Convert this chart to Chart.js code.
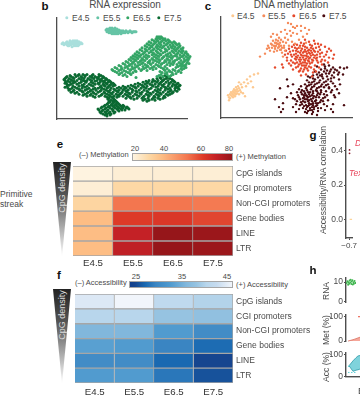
<!DOCTYPE html>
<html>
<head>
<meta charset="utf-8">
<script src="https://cdn.jsdelivr.net/npm/chart.js@4"></script>
<style>
html, body { margin: 0; padding: 0; background: #fff; }
body { position: relative; width: 360px; height: 395px; overflow: hidden; font-family: 'Liberation Sans', Arial, sans-serif; color: #4a4a4a; }
canvas { position: absolute; }
.t { position: absolute; white-space: nowrap; font-size: 8.5px; line-height: 10px; }
.s { font-size: 7.5px; }
.c { transform: translate(-50%, -50%); }
.l { transform: translate(0, -50%); }
.v { transform: translate(-50%, -50%) rotate(-90deg); }
.letter { font-weight: bold; font-size: 11.5px; color: #111; }
.title { font-size: 10px; line-height: 12px; }
.dot { position: absolute; width: 3.4px; height: 3.4px; border-radius: 50%; transform: translate(-50%, -50%); }
.bar { position: absolute; box-sizing: border-box; border: 1px solid #a6a6a6; }
.tri { position: absolute; width: 18px; height: 95px; clip-path: polygon(0 0, 100% 0, 50% 100%); background: linear-gradient(#222, #555 35%, #bbb 75%, #fff); }
</style>
</head>
<body>
<div class="t letter c" style="left:45px;top:6px">b</div>
<div class="t title c" style="left:125px;top:5px">RNA expression</div>
<div class="t letter c" style="left:208px;top:6px">c</div>
<div class="t title c" style="left:291px;top:5px">DNA methylation</div>
<div id="legend-b"></div>
<div id="legend-c"></div>
<canvas id="chart-rna" width="145" height="109" style="left:50px;top:14px"></canvas>
<canvas id="chart-dna" width="145" height="109" style="left:214px;top:13px"></canvas>

<div class="t l" style="left:0;top:194px">Primitive</div>
<div class="t l" style="left:0;top:204px">streak</div>

<div class="t letter c" style="left:60px;top:144px">e</div>
<div class="t s l" style="left:79px;top:155px">(–) Methylation</div>
<div class="t s c" style="left:135px;top:149px">20</div>
<div class="t s c" style="left:164px;top:149px">40</div>
<div class="t s c" style="left:201px;top:149px">60</div>
<div class="t s c" style="left:229px;top:149px">80</div>
<div class="bar" id="bar-met" style="left:132px;top:153px;width:101px;height:8px"></div>
<div class="t s l" style="left:236px;top:157px">(+) Methylation</div>
<div class="tri" style="left:53px;top:162px"></div>
<div class="t v" style="left:62px;top:188px;color:#ddd;font-size:9px">CpG density</div>
<canvas id="chart-met" width="290" height="113" style="left:70px;top:158px"></canvas>

<div class="t letter c" style="left:59px;top:275px">f</div>
<div class="t s l" style="left:75px;top:283px">(–) Accessibility</div>
<div class="t s c" style="left:136px;top:277px">25</div>
<div class="t s c" style="left:182px;top:277px">35</div>
<div class="t s c" style="left:227px;top:277px">45</div>
<div class="bar" id="bar-acc" style="left:129px;top:281px;width:104px;height:7px"></div>
<div class="t s l" style="left:236px;top:285px">(+) Accessibility</div>
<div class="tri" style="left:53px;top:289px"></div>
<div class="t v" style="left:62px;top:315px;color:#ddd;font-size:9px">CpG density</div>
<canvas id="chart-acc" width="290" height="114" style="left:70px;top:286px"></canvas>

<div class="t letter c" style="left:313px;top:135px">g</div>
<div class="t v" style="left:323px;top:180px">Accessibility/RNA correlation</div>
<canvas id="chart-corr" width="32" height="124" style="left:328px;top:128px"></canvas>
<div class="t l" style="left:355px;top:143px;color:#e8445a;font-style:italic">D</div>
<div class="t l" style="left:349px;top:173px;color:#e8445a;font-style:italic">Tex</div>

<div class="t letter c" style="left:313px;top:270px">h</div>
<div class="t v" style="left:326px;top:291px">RNA</div>
<div class="t v" style="left:326px;top:330px">Met (%)</div>
<div class="t v" style="left:326px;top:367px">Acc (%)</div>
<canvas id="chart-h-rna" width="30" height="37" style="left:330px;top:272px"></canvas>
<canvas id="chart-h-met" width="30" height="39" style="left:330px;top:309px"></canvas>
<canvas id="chart-h-acc" width="30" height="36" style="left:330px;top:347px"></canvas>
<div class="t l" style="left:358px;top:391px;font-size:9.5px">E</div>

<script>
const stages = ['E4.5', 'E5.5', 'E6.5', 'E7.5'];
const contexts = ['CpG islands', 'CGI promoters', 'Non-CGI promoters', 'Gene bodies', 'LINE', 'LTR'];

const rnaColors = ['#a9dfdc', '#66c4a6', '#34a565', '#0b6a32'];
const dnaColors = ['#fdc88f', '#f58b5a', '#e5492c', '#4a0b10'];

// tsne clouds, [x, y] or [y, [x, x, ...]] rows
const rnaE45 = [[5,75],[6,76],[7,74],[8,75],[9,76],[10,74],[10,77],[11,75],[12,73],[12,76],[13,75],[14,77],[14,74],[15,72],[15,76],[16,78],[16,75],[17,73],[17,77],[18,75],[18,78],[19,76],[19,73],[20,75],[20,78],[21,76],[22,74],[22,77],[23,75],[24,76],[25,75],[13,78],[11,73],[21,73]];
const rnaE55 = [[49,89],[50,87],[50,90],[51,88],[52,86],[52,90],[53,88],[53,91],[54,86],[54,89],[55,85],[55,88],[55,91],[56,87],[56,90],[57,85],[57,89],[58,87],[58,91],[59,85],[59,89],[60,87],[60,90],[61,85],[61,88],[62,86],[62,89],[63,87],[64,85],[64,88],[65,87],[66,86],[66,88],[67,87],[68,86],[69,88],[70,87],[71,86],[72,87],[73,88],[74,87],[75,86],[76,87],[77,87],[78,87],[79,87]];
const rnaE65 = [
  [82,[100,102,104]],[81,[101,105]],[80,[99,103,106,108]],[79,[95,100,107,111]],[78,[97,101,105,109,112]],[77,[92,99,104,113,117]],
  [76,[94,98,102,107,111,115,118]],[75,[90,97,103,110,119,122]],[74,[92,96,100,104,109,113,116,120]],[73,[88,94,101,107,116,123]],
  [72,[90,95,99,103,106,111,114,118,122]],[71,[85,93,100,105,115,121,126]],[70,[88,92,97,101,108,112,117,120,124]],
  [69,[83,89,96,103,109,118,125]],[68,[85,90,94,99,104,110,115,119,122,126]],[67,[80,88,94,100,108,116,124,129]],
  [66,[82,87,92,96,101,106,113,117,121,125,128]],[65,[78,86,97,103,111,120,130]],[64,[80,84,89,95,99,104,109,114,119,123,127,131]],
  [63,[76,82,91,101,110,118,126,134]],[62,[78,83,87,92,97,102,107,112,116,120,125,129,133]],[61,[74,80,89,99,106,114,123,131]],
  [60,[76,81,85,90,95,100,105,110,115,122,127,132]],[59,[72,78,86,96,102,111,120,130,135]],[58,[74,79,84,88,93,98,103,108,113,118,124,128,131]],
  [57,[69,77,83,92,100,109,116,127]],[56,[71,76,81,86,91,96,102,107,112,117,122,126,130]],[55,[66,75,85,93,105,114,124,132]],
  [54,[68,73,78,83,88,94,99,104,110,116,120,125,129]],[53,[62,72,81,90,101,113,123,127]],[52,[64,70,75,80,86,91,97,102,108,121,125,128]],
  [51,[58,68,78,89,95,104,119,129]],[50,[60,65,71,76,82,87,93,99,106,110,124,127]],[49,[55,64,74,85,96,107,116,125]],
  [48,[56,62,67,73,78,84,90,108,112,118,122]],[47,[58,69,79,103,113,121]],[46,[60,65,71,76,105,110,115,124]],[45,[63,73,108,119]],
  [44,[62,68,74,104,110,116]],[43,[66,102,114]],[42,[70,100,106,112]],[41,[79]],
];
const rnaE75 = [
  [44,[18,22,26,30,36,42]],[43,[13,21,28,35,44,108]],[42,[10,14,19,24,28,33,38,42,46,106,110]],[41,[9,16,25,35,40,47,103,111]],
  [40,[8,12,17,22,27,31,37,41,45,49,100,104,109,113]],[39,[7,14,24,33,43,50,96,107,115]],[38,[8,11,15,20,26,30,35,40,44,48,52,92,96,101,106,111,116]],
  [37,[11,17,28,38,46,53,89,98,105,117]],[36,[9,13,18,24,29,34,43,47,51,54,86,91,95,100,104,109,114,118]],
  [35,[8,16,22,36,41,49,56,81,90,103,112,121]],[34,[10,14,20,27,32,38,42,46,50,54,57,78,83,88,93,98,102,107,112,116,120]],
  [33,[12,25,34,47,53,58,74,85,95,105,118,123]],[32,[10,16,22,26,30,36,44,48,52,56,66,71,76,81,86,90,96,101,106,111,115,119,122]],
  [31,[8,18,28,43,51,62,68,78,87,99,108,120]],[30,[11,15,20,25,32,38,41,45,50,54,60,64,69,73,79,84,89,94,104,109,113,118,121]],
  [29,[13,22,30,36,47,57,67,75,92,101,111,122]],[28,[12,17,23,28,34,39,44,49,53,58,62,66,71,76,82,87,98,103,108,114,118]],
  [27,[16,25,33,43,51,60,69,79,90,100,113,120]],[26,[14,20,26,31,36,41,47,52,56,61,65,70,75,80,85,91,96,101,106,111,116]],
  [25,[18,30,37,48,54,64,72,83,93,103,115]],[24,[22,28,34,39,45,50,55,59,63,68,73,78,84,89,94,99,104,109,113]],
  [23,[26,33,44,52,61,70,80,91,101,111]],[22,[30,36,42,48,53,57,62,66,71,76,82,87,92,97,102,107]],[21,[38,50,55,60,73,86,98,108]],
  [20,[52,56,69,74,80,85,91,96,101,106]],[19,[51,57,77,88,95,103]],[18,[54,58,86,92,98]],[17,[52,56,59,90]],
  [16,[53,57,60]],[15,[51,56,61]],[14,[50,55,59,62]],[13,[48,54,58,63,66]],[12,[47,52,56,60,64,67]],[11,[45,51,57,61,65,70]],
  [10,[44,49,53,58,62,66,69,71]],[9,[41,48,55,60,64,72]],[8,[42,46,51,56,61,65,68]],[7,[45,50,56,62]],
  [6,[43,48,53,58]],[5,[44,49,52,57]],[4,[46,50,54]],[3,[48,53]],[2,[50]],
];

const dnaE45 = [[7,22],[8,20],[9,23],[9,19],[10,22],[10,25],[11,21],[11,24],[12,20],[12,23],[12,26],[13,22],[13,25],[13,28],[14,21],[14,24],[14,27],[15,23],[15,26],[15,30],[16,24],[16,28],[17,26],[17,31],[18,23],[18,29],[19,27],[20,33],[20,25],[21,30],[22,24],[23,35],[25,31],[26,38],[27,34],[29,41],[30,36],[33,43],[37,44],[32,30],[8,17],[24,21],[18,35]];
const dnaE55 = [[39,61],[44,64],[46,69],[47,72],[49,67],[50,74],[51,70],[52,77],[53,72],[53,66],[54,75],[54,69],[55,78],[55,72],[56,74],[56,67],[57,70],[57,77],[58,73],[58,80],[59,68],[59,75],[60,72],[60,78],[61,65],[61,70],[62,76],[63,72],[64,80],[64,67],[65,75],[66,84],[67,78],[68,72],[69,87],[70,82],[71,76],[72,85],[74,90],[76,84],[78,78],[80,87],[82,81],[84,90],[86,84],[88,88],[67,95],[70,94],[72,91],[76,92],[80,92],[56,83],[52,84],[60,86],[64,88],[50,81],[62,61],[74,74],[79,70],[85,75],[48,70],[55,75],[58,71],[51,73],[54,71],[57,74],[60,68],[63,70]];
const dnaE65 = [[84,78],[93,77],[80,75],[88,76],[97,74],[76,73],[83,74],[91,72],[100,73],[71,71],[79,72],[86,70],[89,73],[95,70],[104,71],[68,69],[74,70],[81,69],[87,67],[92,69],[99,68],[108,69],[65,67],[72,67],[77,66],[84,68],[88,65],[94,66],[101,65],[110,67],[67,64],[73,63],[79,65],[83,62],[86,64],[90,62],[96,63],[105,63],[113,63],[66,60],[71,61],[76,60],[81,62],[85,59],[89,60],[93,60],[99,61],[108,60],[70,57],[75,58],[79,56],[83,58],[87,57],[91,55],[96,57],[104,57],[112,59],[68,54],[74,54],[78,53],[82,55],[85,52],[89,54],[94,52],[101,53],[75,50],[80,49],[84,50],[88,51],[93,48],[98,50],[54,50],[62,50],[61,53],[78,46],[82,46],[87,47],[92,45],[80,42],[85,43],[91,41],[72,48],[70,52],[77,62],[82,65],[87,61],[92,63],[80,58],[84,55],[88,59],[76,55],[81,52],[86,49],[79,60],[75,64],[84,71],[90,67],[96,60],[69,66],[73,73],[101,58],[106,66],[64,63],[78,70],[82,72],[90,70],[94,74],[98,71],[75,67],[80,67],[85,66],[91,65],[97,66],[70,63],[75,61],[80,63],[85,62],[89,64],[94,62],[99,64],[74,59],[78,58],[82,60],[86,61],[91,58],[95,59],[72,55],[77,51],[80,54],[84,57],[88,56],[92,57],[97,55],[83,52],[86,54],[90,50],[79,47],[83,48],[95,46],[100,56],[103,61],[107,55],[66,57],[76,69],[83,66],[88,68],[93,67]];
const dnaE75 = [[103,53],[108,52],[96,51],[104,49],[112,50],[119,50],[100,48],[106,47],[110,48],[116,47],[94,46],[98,45],[103,46],[108,44],[113,45],[123,49],[96,43],[101,43],[106,41],[111,42],[117,43],[92,42],[97,40],[102,39],[107,38],[113,40],[126,50],[89,40],[94,38],[99,37],[105,36],[110,36],[118,38],[86,37],[91,35],[96,34],[101,33],[107,33],[112,34],[84,33],[88,32],[93,31],[98,30],[103,30],[108,29],[114,31],[80,31],[85,29],[90,28],[95,27],[100,27],[105,26],[78,28],[83,26],[87,25],[92,24],[97,24],[103,23],[110,25],[76,25],[81,23],[85,22],[89,21],[93,21],[98,20],[104,20],[113,22],[78,20],[82,19],[86,18],[90,18],[95,17],[100,17],[107,17],[72,19],[76,16],[80,15],[84,15],[88,14],[92,14],[97,14],[103,13],[112,13],[79,12],[83,11],[87,11],[91,10],[95,11],[100,9],[110,8],[72,10],[85,8],[89,7],[93,8],[97,6],[75,5],[86,4],[91,3],[96,2],[84,5],[88,17],[92,19],[96,22],[90,13],[86,21],[82,16],[94,16],[89,25],[85,12],[91,7],[54,18],[59,29],[66,38],[67,31],[66,20],[62,14],[62,8],[60,5],[114,20],[112,5],[118,24],[70,24],[72,33],[58,10],[122,43],[123,12],[81,27],[86,31],[91,30],[96,29],[100,31],[105,32],[88,35],[93,36],[83,22],[87,20],[91,22],[95,20],[99,23],[102,19],[106,22],[79,18],[83,20],[87,16],[91,16],[95,14],[99,15],[102,16],[81,13],[84,18],[88,12],[92,12],[96,12],[86,10],[89,9],[93,10],[82,9],[97,9],[87,6],[92,5],[84,24],[88,23],[92,26],[96,26],[100,25],[86,27],[90,33],[94,33],[98,35],[103,35],[101,41],[105,44],[99,42],[109,46],[114,48],[104,51],[118,45],[110,39],[92,39],[87,41],[80,25],[77,22],[75,13],[78,8],[74,18],[106,11],[104,7],[108,30],[111,27],[116,28],[119,33]];

// heatmap values per stage, same order as contexts
const metE45 = [18, 20, 29, 36, 36, 36];
const metE55 = [20, 28, 52, 62, 70, 71];
const metE65 = [20, 28, 52, 63, 80, 80];
const metE75 = [20, 28, 51, 60, 79, 79];
const accE45 = [43.5, 40, 36, 33.5, 31, 33];
const accE55 = [45, 40, 36, 33, 31, 33];
const accE65 = [41, 38, 33, 30, 28, 29];
const accE75 = [39.7, 37.5, 31, 28.2, 26, 26.7];

const metStops = [[18, '#fef3e0'], [20, '#fdeed5'], [28, '#fdd8a5'], [36, '#fdbd84'], [52, '#f3764f'], [62, '#dd3a28'], [70, '#c42126'], [80, '#96161a']];
const accStops = [[25, '#123f8c'], [26, '#16458f'], [28, '#1a69b1'], [30, '#3a85c2'], [33, '#519bcf'], [36, '#81b7dc'], [38, '#96c3e1'], [40, '#b8d6ec'], [42, '#c6dbef'], [45, '#f1f5fb']];

// small panels cut off at the right edge
const corrDotsX = [-0.692, -0.692];
const corrDotsY = [0.405, 0.385];
const corrLineX = [-0.69, -0.64];
const corrLineY = [0, 0];
const hRnaX = [1, 2, 3, 3.5, 4.5, 5, 6, 6.5, 7.5, 8, 9, 9.5, 10.5, 11, 12, 13];
const hRnaY = [9.5, 10.5, 8.6, 10, 9.2, 10.8, 9.8, 11.2, 9, 10.3, 11, 8.8, 10, 9.2, 10.6, 9.6];
const hMetX = [2, 8, 14];
const hMetY = [0, 7, 16];
const hMetTopX = [12, 14];
const hMetTopY = [100, 100];
const hAccX = [3, 7, 10, 12, 14];
const hAccTop = [50, 72, 86, 94, 96];
const hAccLow = [50, 25, 30, 32, 35];
const hAccDashX = [2, 5, 8, 10];
const hAccDash1 = [20, 20, 20, 20];
const hAccDash2 = [47, 47, 47, 47];

const axisGrey = '#4d4d4d';
const labelGrey = '#4a4a4a';

Chart.defaults.font.family = "'Liberation Sans', Arial, sans-serif";
Chart.defaults.color = labelGrey;
Chart.defaults.animation = false;
Chart.defaults.responsive = false;
Chart.defaults.plugins.legend.display = false;
Chart.defaults.plugins.tooltip.enabled = false;

function expand(rows) {
    return rows.flatMap(([y, xs]) => xs.map((x) => ({ x, y })));
}

function pairs(list) {
    return list.map(([x, y]) => ({ x, y }));
}

function zip(xs, ys) {
    return xs.map((x, i) => ({ x, y: ys[i] }));
}

function lerpColor(stops, v) {
    const hex = (c) => [1, 3, 5].map((i) => parseInt(c.slice(i, i + 2), 16));
    if (v <= stops[0][0]) return stops[0][1];
    for (let i = 1; i < stops.length; i++) {
        if (v <= stops[i][0]) {
            const t = (v - stops[i - 1][0]) / (stops[i][0] - stops[i - 1][0]);
            const a = hex(stops[i - 1][1]);
            const b = hex(stops[i][1]);
            return `rgb(${a.map((n, k) => Math.round(n + (b[k] - n) * t)).join(',')})`;
        }
    }
    return stops[stops.length - 1][1];
}

function legend(id, colors, dotX, textX, y) {
    const box = document.getElementById(id);
    stages.forEach((s, i) => {
        box.insertAdjacentHTML('beforeend',
            `<div class="dot" style="left:${dotX[i]}px;top:${y}px;background:${colors[i]}"></div>` +
            `<div class="t l" style="left:${textX[i]}px;top:${y}px">${s}</div>`);
    });
}

function cloud(canvasId, colors, sets, xMax, padding, radius) {
    new Chart(document.getElementById(canvasId), {
        type: 'scatter',
        data: {
            datasets: sets.map((data, i) => ({
                data,
                backgroundColor: colors[i],
                pointRadius: radius,
                pointBorderWidth: 0,
                clip: false,
            })),
        },
        options: {
            layout: { padding },
            scales: {
                x: {
                    min: 0, max: xMax,
                    grid: { display: false },
                    ticks: { display: false },
                    border: { color: axisGrey, width: 1.3 },
                    afterFit: (s) => { s.height = 0; },
                },
                y: {
                    min: -1, max: 101,
                    grid: { display: false },
                    ticks: { display: false },
                    border: { color: axisGrey, width: 1.3 },
                    afterFit: (s) => { s.width = 0; },
                },
            },
        },
    });
}

function heatmap(canvasId, columns, stops, padding, labelGap) {
    new Chart(document.getElementById(canvasId), {
        type: 'bar',
        data: {
            labels: contexts,
            datasets: columns.map((values) => ({
                data: values.map(() => 1),
                backgroundColor: (ctx) => lerpColor(stops, values[ctx.dataIndex]),
                borderColor: '#a6a6a6',
                borderWidth: 1,
                barPercentage: 1,
                categoryPercentage: 1,
            })),
        },
        options: {
            indexAxis: 'y',
            layout: { padding },
            scales: {
                x: {
                    stacked: true,
                    min: 0, max: 4,
                    grid: { display: false, drawTicks: false },
                    border: { display: false },
                    afterBuildTicks: (s) => { s.ticks = stages.map((_, i) => ({ value: i + 0.5 })); },
                    ticks: {
                        autoSkip: false, maxRotation: 0, padding: labelGap,
                        font: { size: 9.7 }, color: '#333',
                        callback: (v) => stages[v - 0.5],
                    },
                    afterFit: (s) => { s.height = 13 + labelGap; },
                },
                y: {
                    stacked: true,
                    position: 'right',
                    grid: { display: false, drawTicks: false },
                    border: { display: false },
                    ticks: { autoSkip: false, padding: 3, font: { size: 8.5 }, color: labelGrey },
                    afterFit: (s) => { s.width = 127; },
                },
            },
        },
    });
}

function tickY(min, max, values, width, fmt) {
    return {
        min, max,
        afterBuildTicks: (s) => { s.ticks = values.map((value) => ({ value })); },
        grid: { drawOnChartArea: false, tickLength: 2, color: axisGrey },
        border: { color: axisGrey, width: 1.4 },
        ticks: { padding: 1, font: { size: 8.5 }, color: labelGrey, callback: fmt || ((v) => v) },
        afterFit: (s) => { s.width = width; },
    };
}

function smallPanel(canvasId, datasets, yScale, showBottom) {
    new Chart(document.getElementById(canvasId), {
        type: 'scatter',
        data: { datasets },
        options: {
            layout: { padding: { top: 3, bottom: canvasId === 'chart-h-acc' ? 1 : 3 } },
            scales: {
                x: {
                    min: 0, max: 14,
                    grid: { display: false },
                    ticks: { display: false },
                    border: { display: showBottom, color: axisGrey, width: 1.4 },
                    afterFit: (s) => { s.height = 0; },
                },
                y: yScale,
            },
        },
    });
}

function init() {
    legend('legend-b', rnaColors, [67, 98, 128, 159], [72, 103, 133, 164], 18);
    legend('legend-c', dnaColors, [233, 264, 294, 324], [237, 268, 299, 329], 16);

    cloud('chart-rna', rnaColors, [pairs(rnaE45), pairs(rnaE55), expand(rnaE65), expand(rnaE75)], 130,
        { left: 7, right: 8, top: 4, bottom: 3 }, 1.5);
    cloud('chart-dna', dnaColors, [pairs(dnaE45), pairs(dnaE55), pairs(dnaE65), pairs(dnaE75)], 131,
        { left: 7, right: 7, top: 4, bottom: 3 }, 1.2);

    heatmap('chart-met', [metE45, metE55, metE65, metE75], metStops, { left: 3, top: 3 }, 2);
    heatmap('chart-acc', [accE45, accE55, accE65, accE75], accStops, { left: 5, top: 3 }, 4);

    const css = (stops) => `linear-gradient(90deg,${stops.map(([v, c]) => {
        const pct = (v - stops[0][0]) / (stops[stops.length - 1][0] - stops[0][0]) * 100;
        return `${c} ${pct}%`;
    }).join(',')})`;
    document.getElementById('bar-met').style.background = css(metStops);
    document.getElementById('bar-acc').style.background = css(accStops);

    new Chart(document.getElementById('chart-corr'), {
        type: 'scatter',
        data: {
            datasets: [
                { data: zip(corrDotsX, corrDotsY), backgroundColor: '#8a1c2c', pointRadius: 0.9, pointBorderWidth: 0 },
                { data: zip(corrLineX, corrLineY), showLine: true, borderColor: '#fbd49a', borderWidth: 1.3, pointRadius: 0 },
            ],
        },
        options: {
            layout: { padding: { top: 4 } },
            scales: {
                x: {
                    min: -0.758, max: -0.642,
                    afterBuildTicks: (s) => { s.ticks = [{ value: -0.7 }]; },
                    grid: { drawOnChartArea: false, tickLength: 2, color: axisGrey },
                    border: { color: axisGrey, width: 1.4 },
                    ticks: { padding: 1, maxRotation: 0, font: { size: 8 }, color: labelGrey, callback: (v) => `−${Math.abs(v).toFixed(1)}` },
                    afterFit: (s) => { s.height = 14; },
                },
                y: tickY(-0.1086, 0.497, [0, 0.2, 0.4], 18, (v) => v.toFixed(1)),
            },
        },
    });

    smallPanel('chart-h-rna',
        [{ data: zip(hRnaX, hRnaY), backgroundColor: '#3fb54e', pointRadius: 1, pointBorderWidth: 0 }],
        tickY(-0.8, 12.1, [0, 5, 10], 16), false);
    smallPanel('chart-h-met',
        [
            { data: zip(hMetX, hMetY), showLine: true, fill: 'origin', borderColor: '#d9705f', backgroundColor: '#f6a79a', borderWidth: 0.8, pointRadius: 0 },
            { data: zip(hMetTopX, hMetTopY), showLine: true, borderColor: '#e8503c', borderWidth: 1, pointRadius: 0 },
        ],
        tickY(-3.3, 106.7, [0, 50, 100], 16), false);
    smallPanel('chart-h-acc',
        [
            { data: zip(hAccX, hAccTop), showLine: true, borderColor: '#2e9aa8', backgroundColor: 'transparent', borderWidth: 0.8, pointRadius: 0 },
            { data: zip(hAccX, hAccLow), showLine: true, fill: '-1', borderColor: '#2e9aa8', backgroundColor: '#7fd3dc', borderWidth: 0.8, pointRadius: 0 },
            { data: zip(hAccDashX, hAccDash1), showLine: true, borderColor: '#5fd0d8', borderDash: [1.5, 1.5], borderWidth: 1, pointRadius: 0 },
            { data: zip(hAccDashX, hAccDash2), showLine: true, borderColor: '#5fd0d8', borderDash: [1.5, 1.5], borderWidth: 1, pointRadius: 0 },
        ],
        tickY(0, 106.7, [0, 50, 100], 16), true);
}

init();
</script>
</body>
</html>
